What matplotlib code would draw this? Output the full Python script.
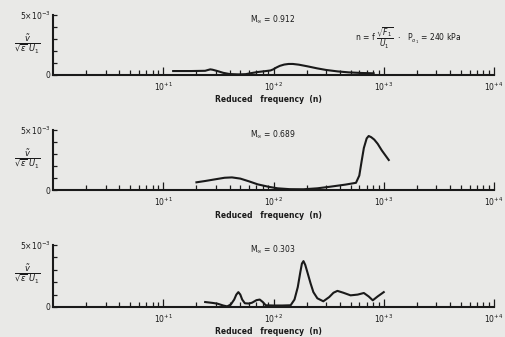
import numpy as np
import matplotlib.pyplot as plt
from matplotlib.ticker import LogLocator, NullFormatter, FixedLocator

# Datos (n = frecuencia reducida, v en unidades de 1e-3)
n1 = [12.3, 18, 24, 25.5, 26.7, 28, 31, 35, 40, 48, 56, 62, 72, 84, 94, 100, 106, 114, 125, 137, 150, 170, 204, 250, 300, 381, 480, 620, 810]
v1 = [0.33, 0.33, 0.35, 0.42, 0.47, 0.44, 0.33, 0.18, 0.08, 0.05, 0.07, 0.15, 0.25, 0.32, 0.38, 0.48, 0.62, 0.76, 0.87, 0.92, 0.92, 0.86, 0.72, 0.55, 0.42, 0.3, 0.22, 0.17, 0.14]

n2 = [20, 24, 30, 36, 42, 50, 60, 72, 90, 109, 140, 187, 250, 330, 450, 560, 600, 630, 660, 700, 730, 770, 820, 881, 960, 1110]
v2 = [0.64, 0.75, 0.9, 1.02, 1.05, 0.95, 0.72, 0.47, 0.27, 0.14, 0.07, 0.06, 0.14, 0.28, 0.45, 0.6, 1.2, 2.4, 3.5, 4.3, 4.5, 4.4, 4.2, 3.85, 3.3, 2.5]

n3 = [24, 28, 31, 35, 38, 41, 44, 46, 48, 50, 52, 55, 60, 64, 70, 75, 80, 85, 100, 120, 143, 155, 166, 175, 181, 187, 194, 203, 217, 230, 250, 283, 320, 350, 380, 430, 500, 580, 660, 730, 795, 880, 1000]
v3 = [0.4, 0.33, 0.27, 0.12, 0.05, 0.2, 0.6, 1.0, 1.2, 1.0, 0.6, 0.3, 0.28, 0.35, 0.55, 0.6, 0.4, 0.14, 0.12, 0.12, 0.14, 0.6, 1.6, 2.8, 3.5, 3.7, 3.4, 2.8, 1.9, 1.2, 0.7, 0.46, 0.8, 1.15, 1.3, 1.15, 0.94, 1.0, 1.13, 0.85, 0.54, 0.85, 1.2]

machs = ["0.912", "0.689", "0.303"]
decadas = [10, 100, 1000, 10000]
etiquetasX = ["$10^{+1}$", "$10^{+2}$", "$10^{+3}$", "$10^{+4}$"]

fondo = '#e9e9e7'
tinta = '#1a1a1a'

fig = plt.figure(figsize=(5.05, 3.37), dpi=100, facecolor=fondo)

# posiciones de los paneles en pixeles (arriba, abajo)
paneles = [(15, 75), (130, 190), (245, 307)]
series = [(n1, v1), (n2, v2), (n3, v3)]

for i, ((top, bot), (n, v)) in enumerate(zip(paneles, series)):
    ax = fig.add_axes([53/505, 1 - bot/337, 441/505, (bot - top)/337])
    ax.set_facecolor(fondo)
    ax.plot(n, np.array(v)*1e-3, color=tinta, lw=1.5, solid_joinstyle='round')
    ax.set_xscale('log')
    ax.set_xlim(1, 1e4)
    ax.set_ylim(0, 5e-3)
    for s in ['top', 'right']:
        ax.spines[s].set_visible(False)
    for s in ['left', 'bottom']:
        ax.spines[s].set_linewidth(1.5)
        ax.spines[s].set_color(tinta)
    ax.xaxis.set_major_locator(FixedLocator(decadas))
    ax.set_xticklabels(etiquetasX, fontsize=5.5, color=tinta)
    ax.xaxis.set_minor_locator(LogLocator(base=10, subs=np.arange(2, 10)))
    ax.xaxis.set_minor_formatter(NullFormatter())
    ax.tick_params(axis='x', which='major', direction='in', length=6, width=0.9, pad=4, colors=tinta)
    ax.tick_params(axis='x', which='minor', direction='in', length=3.5, width=0.9, colors=tinta)
    ax.set_yticks([0, 1e-3, 2e-3, 3e-3, 4e-3, 5e-3])
    ax.set_yticklabels(["0", "", "", "", "", r"5$\times$10$^{-3}$"], fontsize=5.5, color=tinta)
    ax.tick_params(axis='y', direction='in', length=3, width=0.9, pad=2, colors=tinta)

    # etiqueta del eje y
    yl = 1 - (top + 29)/337
    fig.text(27/505, yl, r'$\dfrac{\tilde{v}}{\sqrt{\epsilon}\ U_1}$', fontsize=6,
             ha='center', va='center', color=tinta)
    # titulo del eje x
    fig.text(268/505, 1 - (bot + 25)/337, "Reduced   frequency  (n)", fontsize=5.5,
             ha='center', va='center', color=tinta, fontweight='bold')
    # numero de Mach
    fig.text(250/505, 1 - (top + 4)/337, r"M$_{\infty}$ = " + machs[i], fontsize=5.5,
             ha='left', va='center', color=tinta)

fig.text(355/505, 1 - 38/337, r"n = f $\dfrac{\sqrt{F_1}}{U_1}$  $\cdot$   P$_{o_1}$ = 240 kPa",
         fontsize=5.5, ha='left', va='center', color=tinta)

fig.savefig('out.png', dpi=100, facecolor=fondo)
